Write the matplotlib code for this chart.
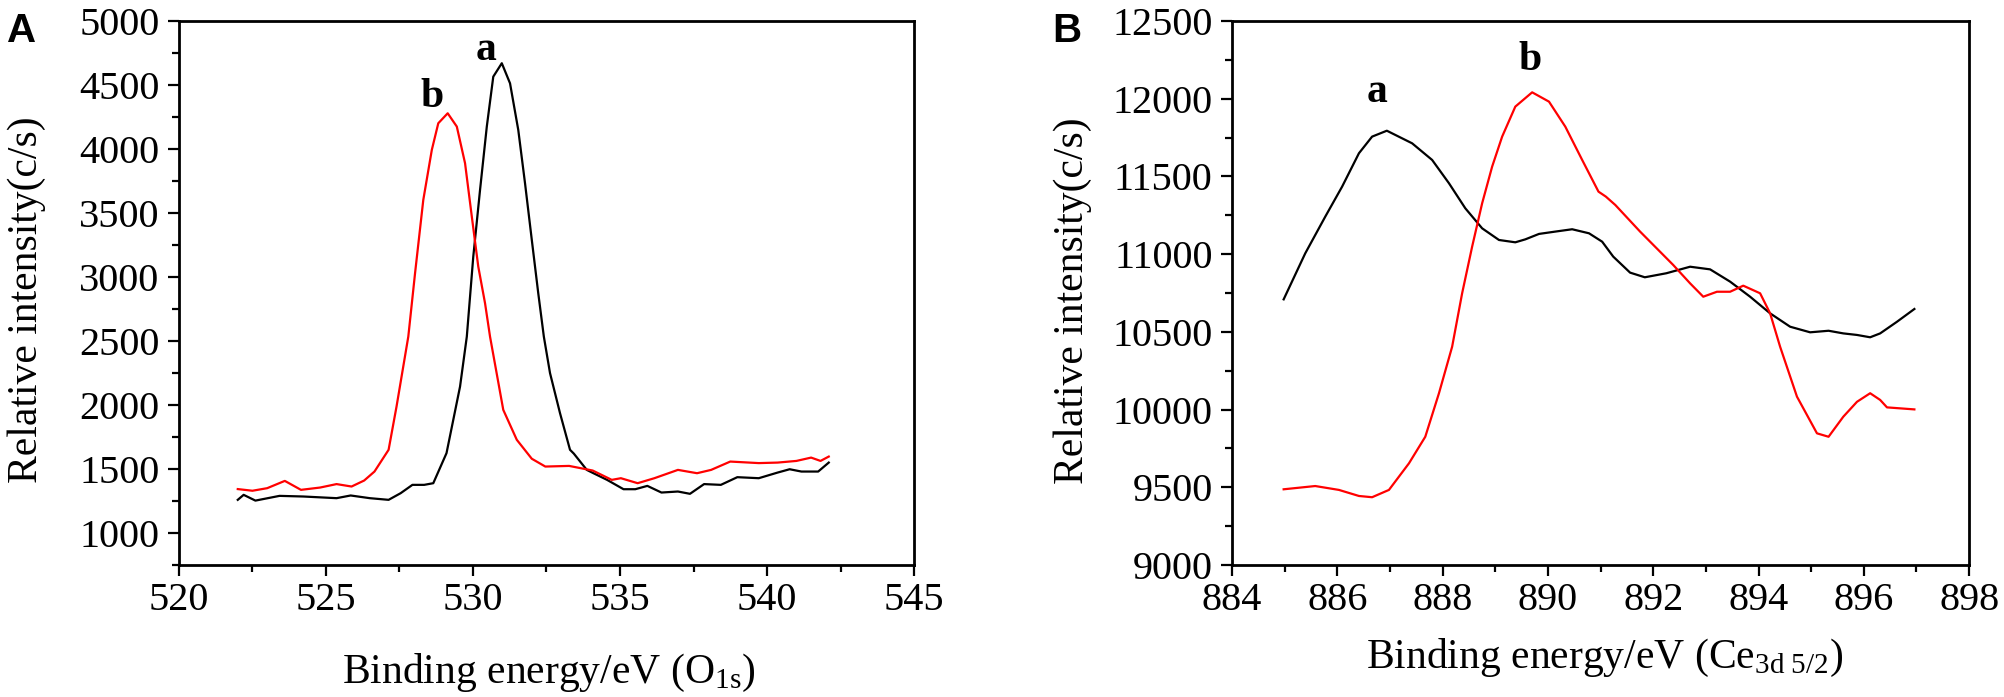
import matplotlib
matplotlib.use("Agg")
import matplotlib.pyplot as plt
from matplotlib.ticker import MultipleLocator

plt.rcParams['font.family'] = ['Liberation Serif', 'DejaVu Serif']
plt.rcParams['mathtext.fontset'] = 'custom'
plt.rcParams['mathtext.rm'] = 'Liberation Serif'
plt.rcParams['mathtext.it'] = 'Liberation Serif:italic'

# ---------------- Panel A: O1s ----------------
a_o1s_x = [522.0, 522.2, 522.6, 523.42, 524.23, 525.36, 525.84, 526.49, 527.13, 527.54,
           527.94, 528.34, 528.65, 529.1, 529.56, 529.79, 530.01, 530.24, 530.47, 530.69,
           530.98, 531.26, 531.54, 531.77, 532.0, 532.22, 532.41, 532.62, 532.96, 533.3,
           533.43, 533.87, 534.07, 534.56, 535.12, 535.52, 535.93, 536.41, 536.97, 537.38,
           537.86, 538.43, 538.99, 539.72, 540.36, 540.77, 541.17, 541.74, 542.1]
a_o1s_y = [1259, 1298, 1253, 1290, 1285, 1272, 1293, 1272, 1259, 1311,
           1376, 1376, 1389, 1624, 2144, 2534, 3159, 3680, 4175, 4565,
           4670, 4513, 4149, 3732, 3290, 2873, 2534, 2249, 1936, 1650,
           1620, 1493, 1470, 1415, 1342, 1342, 1368, 1316, 1324, 1306,
           1382, 1376, 1436, 1428, 1472, 1498, 1480, 1480, 1550]

b_o1s_x = [522.0, 522.5, 523.0, 523.6, 524.15, 524.8, 525.36, 525.87, 526.3, 526.65,
           527.13, 527.4, 527.8, 528.03, 528.31, 528.6, 528.82, 529.14, 529.45, 529.73,
           529.96, 530.18, 530.41, 530.58, 531.03, 531.49, 532.0, 532.46, 533.27, 534.07,
           534.72, 535.03, 535.6, 536.17, 536.97, 537.62, 538.1, 538.75, 539.72, 540.36,
           541.0, 541.5, 541.82, 542.1]
b_o1s_y = [1343, 1330, 1350, 1407, 1337, 1355, 1382, 1363, 1410, 1480,
           1650, 1988, 2534, 3030, 3602, 3993, 4201, 4279, 4175, 3889,
           3472, 3081, 2795, 2534, 1962, 1728, 1580, 1519, 1524, 1488,
           1415, 1428, 1389, 1428, 1493, 1467, 1493, 1558, 1546, 1550,
           1563, 1589, 1563, 1597]

# ---------------- Panel B: Ce3d5/2 ----------------
a_ce_x = [884.98, 885.39, 885.77, 886.09, 886.41, 886.66, 886.94, 887.42, 887.8, 888.12,
          888.43, 888.75, 889.07, 889.38, 889.57, 889.83, 890.14, 890.46, 890.78, 891.03,
          891.24, 891.56, 891.84, 892.25, 892.7, 893.08, 893.46, 893.84, 894.22, 894.6,
          894.98, 895.33, 895.61, 895.87, 896.12, 896.31, 896.63, 896.96]
a_ce_y = [10709, 11005, 11241, 11434, 11649, 11756, 11794, 11713, 11606, 11456,
          11295, 11166, 11091, 11076, 11095, 11130, 11145, 11160, 11134, 11080,
          10984, 10881, 10851, 10877, 10919, 10902, 10823, 10726, 10619, 10533,
          10497, 10507, 10490, 10480, 10465, 10490, 10565, 10647]

b_ce_x = [884.98, 885.58, 886.03, 886.41, 886.66, 886.98, 887.36, 887.67, 887.93, 888.18,
          888.37, 888.56, 888.75, 888.94, 889.13, 889.38, 889.7, 890.02, 890.33, 890.65,
          890.96, 891.1, 891.28, 891.75, 892.38, 892.7, 892.95, 893.21, 893.46, 893.71,
          894.03, 894.22, 894.41, 894.73, 895.11, 895.33, 895.61, 895.87, 896.12, 896.31,
          896.44, 896.96]
b_ce_y = [9487, 9508, 9483, 9444, 9436, 9483, 9654, 9825, 10105, 10404,
          10748, 11048, 11327, 11563, 11756, 11949, 12041, 11981, 11820, 11606,
          11402, 11370, 11316, 11145, 10930, 10812, 10726, 10758, 10758, 10797,
          10748, 10619, 10404, 10083, 9847, 9825, 9954, 10050, 10105, 10062,
          10014, 10001]

xlabel_A = r'Binding energy/eV (O$_\mathregular{1s}$)'
xlabel_B = r'Binding energy/eV (Ce$_\mathregular{3d\ 5/2}$)'
ylabel = 'Relative intensity(c/s)'

fig = plt.figure(figsize=(20.04, 6.97), dpi=100)
axA = fig.add_axes([0.0893, 0.1894, 0.3668, 0.7805])
axB = fig.add_axes([0.6148, 0.1894, 0.3678, 0.7805])

red = '#ff0000'
axA.plot(a_o1s_x, a_o1s_y, color='black', lw=1.6)
axA.plot(b_o1s_x, b_o1s_y, color=red, lw=1.6)
axB.plot(a_ce_x, a_ce_y, color='black', lw=1.6)
axB.plot(b_ce_x, b_ce_y, color=red, lw=1.6)

axA.set_xlim(520, 545)
axA.set_ylim(750, 5000)
axA.xaxis.set_major_locator(MultipleLocator(5))
axA.xaxis.set_minor_locator(MultipleLocator(2.5))
axA.yaxis.set_major_locator(MultipleLocator(500))
axA.yaxis.set_minor_locator(MultipleLocator(250))

axB.set_xlim(884, 898)
axB.set_ylim(9000, 12500)
axB.xaxis.set_major_locator(MultipleLocator(2))
axB.xaxis.set_minor_locator(MultipleLocator(1))
axB.yaxis.set_major_locator(MultipleLocator(500))
axB.yaxis.set_minor_locator(MultipleLocator(250))

for ax, xl in ((axA, xlabel_A), (axB, xlabel_B)):
    for s in ax.spines.values():
        s.set_linewidth(2.0)
    ax.tick_params(which='both', direction='out', top=False, right=False, width=1.6)
    ax.tick_params(which='major', length=8, labelsize=29)
    ax.tick_params(which='minor', length=5)
    ax.tick_params(axis='x', which='major', pad=4)
    ax.tick_params(axis='y', which='major', pad=6)
    ax.set_xlabel(xl, fontsize=30)
    ax.set_ylabel(ylabel, fontsize=30)

axA.xaxis.label.set_va('baseline')
axB.xaxis.label.set_va('baseline')
axA.xaxis.set_label_coords(0.503, -0.217)
axB.xaxis.set_label_coords(0.506, -0.189)
axA.yaxis.set_label_coords(-0.181, 0.487)
axB.yaxis.set_label_coords(-0.190, 0.485)

# curve labels
axA.text(530.45, 4695, 'a', fontsize=30, fontweight='bold', ha='center', va='baseline')
axA.text(528.6, 4326, 'b', fontsize=30, fontweight='bold', ha='center', va='baseline')
axB.text(886.75, 11981, 'a', fontsize=30, fontweight='bold', ha='center', va='baseline')
axB.text(889.66, 12186, 'b', fontsize=30, fontweight='bold', ha='center', va='baseline')

# panel letters
fig.text(7 / 2004, 1 - 42 / 697, 'A', fontsize=29, fontweight='bold',
         family=['Liberation Sans', 'DejaVu Sans'], ha='left', va='baseline')
fig.text(1052 / 2004, 1 - 42 / 697, 'B', fontsize=29, fontweight='bold',
         family=['Liberation Sans', 'DejaVu Sans'], ha='left', va='baseline')

fig.savefig('out.png', dpi=100)
